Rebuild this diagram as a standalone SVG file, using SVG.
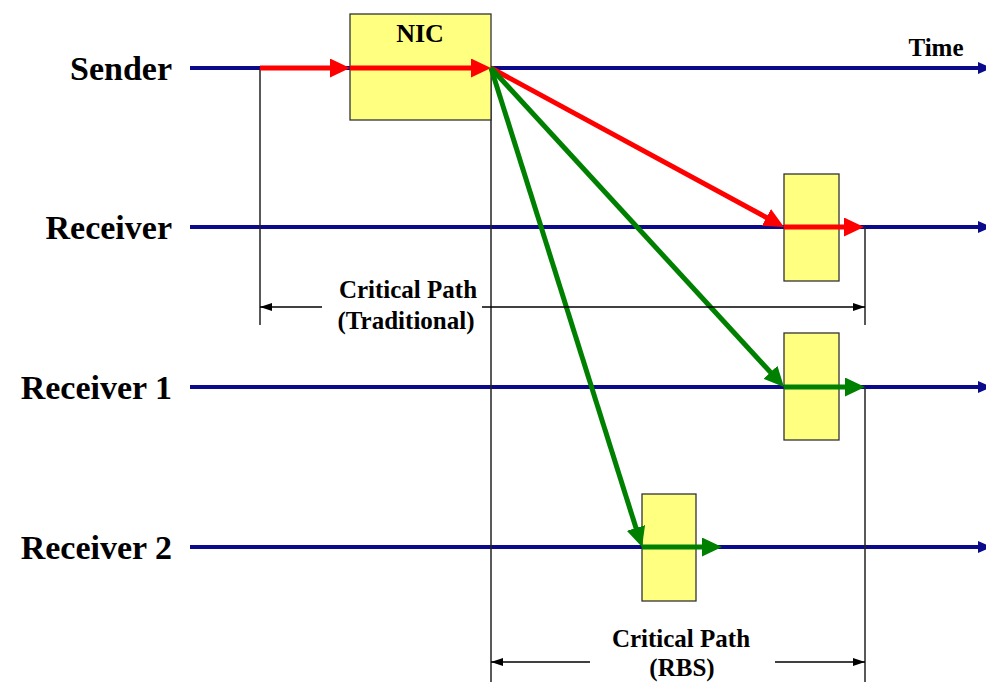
<svg xmlns="http://www.w3.org/2000/svg" width="986" height="682" viewBox="0 0 986 682">
<style>
.lbl{font-family:"Liberation Serif","Times New Roman",serif;font-weight:bold;fill:#000}
.tl{stroke:#0a0a8a;stroke-width:4;fill:none}
.vl{stroke:#222;stroke-width:1.5;fill:none}
.box{fill:#ffff80;stroke:#333;stroke-width:1.3}
.red{stroke:#ff0000;stroke-width:5;fill:none}
.grn{stroke:#008000;stroke-width:5;fill:none}
.dim{stroke:#000;stroke-width:1.5;fill:none}
</style>
<defs>
<marker id="ahR" markerUnits="userSpaceOnUse" markerWidth="20" markerHeight="19" refX="10" refY="9.5" orient="auto"><path d="M0,0 L20,9.5 L0,19 z" fill="#ff0000"/></marker>
<marker id="ahG" markerUnits="userSpaceOnUse" markerWidth="20" markerHeight="19" refX="10" refY="9.5" orient="auto"><path d="M0,0 L20,9.5 L0,19 z" fill="#008000"/></marker>
<marker id="ahB" markerUnits="userSpaceOnUse" markerWidth="14" markerHeight="12" refX="4" refY="6" orient="auto"><path d="M0,0 L14,6 L0,12 z" fill="#0a0a8a"/></marker>
<marker id="ahK" markerUnits="userSpaceOnUse" markerWidth="12" markerHeight="8" refX="12" refY="4" orient="auto"><path d="M0,0 L12,4 L0,8 z" fill="#000"/></marker>
</defs>

<g id="timelines">
<line class="tl" x1="190" y1="68" x2="982" y2="68" marker-end="url(#ahB)"/>
<line class="tl" x1="190" y1="227" x2="982" y2="227" marker-end="url(#ahB)"/>
<line class="tl" x1="190" y1="387" x2="982" y2="387" marker-end="url(#ahB)"/>
<line class="tl" x1="190" y1="547" x2="982" y2="547" marker-end="url(#ahB)"/>
</g>

<g id="guides">
<line class="vl" x1="260" y1="68" x2="260" y2="325"/>
<line class="vl" x1="491" y1="68" x2="491" y2="682"/>
<line class="vl" x1="865" y1="227" x2="865" y2="325"/>
<line class="vl" x1="865" y1="387" x2="865" y2="682"/>
</g>

<g id="nic"><rect class="box" x="350" y="14" width="141" height="106"/><text class="lbl" x="420" y="42" font-size="26" text-anchor="middle">NIC</text></g>
<g id="box-receiver"><rect class="box" x="784" y="174" width="55" height="107"/></g>
<g id="box-receiver1"><rect class="box" x="784" y="333" width="55" height="107"/></g>
<g id="box-receiver2"><rect class="box" x="642" y="494" width="54" height="107"/></g>

<g id="connectors">
<line class="red" x1="260" y1="68" x2="340" y2="68" marker-end="url(#ahR)"/>
<line class="red" x1="350" y1="68" x2="481" y2="68" marker-end="url(#ahR)"/>
<line class="red" x1="491" y1="68" x2="775.2" y2="222.2" marker-end="url(#ahR)"/>
<line class="red" x1="784" y1="227" x2="854" y2="227" marker-end="url(#ahR)"/>
<line class="grn" x1="491" y1="68" x2="777.2" y2="379.6" marker-end="url(#ahG)"/>
<line class="grn" x1="784" y1="387" x2="855" y2="387" marker-end="url(#ahG)"/>
<line class="grn" x1="491" y1="68" x2="639" y2="537.5" marker-end="url(#ahG)"/>
<line class="grn" x1="642" y1="547" x2="712" y2="547" marker-end="url(#ahG)"/>
<line class="dim" x1="322" y1="307" x2="260" y2="307" marker-end="url(#ahK)"/>
<line class="dim" x1="482" y1="307" x2="865" y2="307" marker-end="url(#ahK)"/>
<line class="dim" x1="590" y1="662" x2="491" y2="662" marker-end="url(#ahK)"/>
<line class="dim" x1="775" y1="662" x2="865" y2="662" marker-end="url(#ahK)"/>
</g>

<g id="labels">
<text class="lbl" x="172" y="80" font-size="34" text-anchor="end">Sender</text>
<text class="lbl" x="172" y="239" font-size="34" text-anchor="end">Receiver</text>
<text class="lbl" x="172" y="399" font-size="34" text-anchor="end">Receiver 1</text>
<text class="lbl" x="172" y="559" font-size="34" text-anchor="end">Receiver 2</text>
<text class="lbl" x="936" y="56" font-size="25" text-anchor="middle">Time</text>
<text class="lbl" x="408" y="298" font-size="25" text-anchor="middle">Critical Path</text>
<text class="lbl" x="406" y="329" font-size="25" text-anchor="middle">(Traditional)</text>
<text class="lbl" x="681" y="647" font-size="25" text-anchor="middle">Critical Path</text>
<text class="lbl" x="682" y="676" font-size="25" text-anchor="middle">(RBS)</text>
</g>
</svg>
